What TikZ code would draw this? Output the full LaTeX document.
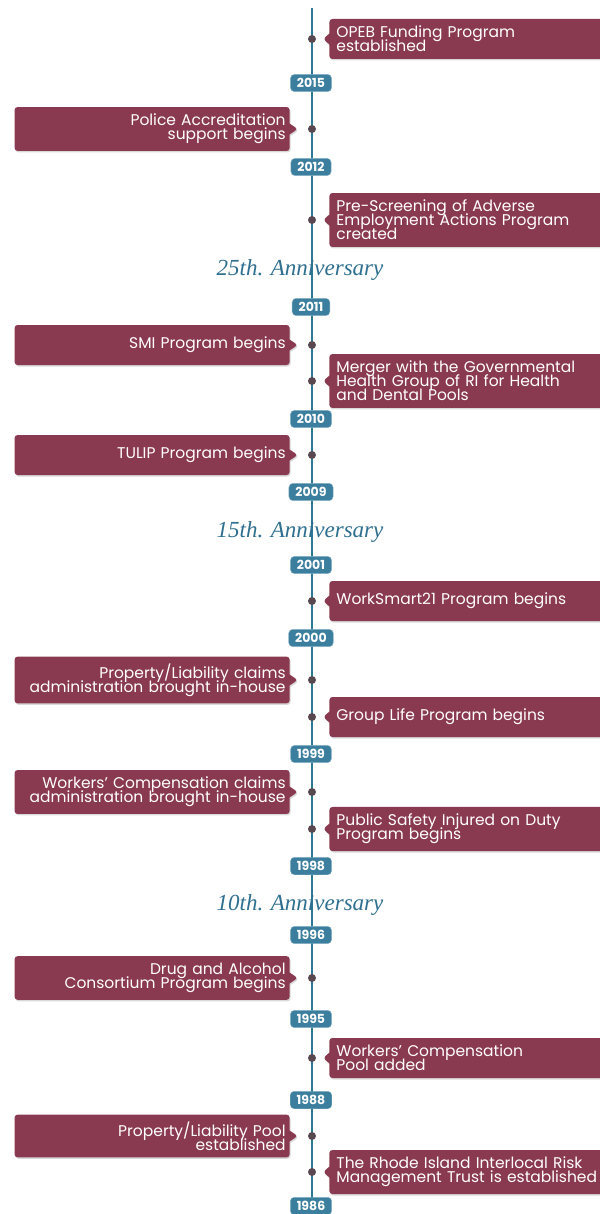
\documentclass[tikz,border=0pt]{standalone}
\usepackage{fontspec}
\setmainfont{Poppins}
\newfontfamily\annfont{Liberation Serif}
\usetikzlibrary{positioning,shapes.callouts,shadows}
\definecolor{boxred}{HTML}{8A3A50}
\definecolor{linetl}{HTML}{2C7896}
\definecolor{yearbl}{HTML}{3B7E9E}
\definecolor{dotgr}{HTML}{5A4850}
\definecolor{anntl}{HTML}{2F6F8F}
\newcommand\evtfont{\fontsize{15.5}{14}\selectfont\lineskiplimit=-8pt\relax}
\tikzset{
	evt/.style={rectangle callout, fill=boxred, text=white, rounded corners=3pt, minimum height=40pt, inner ysep=7pt, callout pointer width=11pt, font=\evtfont, drop shadow={opacity=0.3, shadow xshift=1pt, shadow yshift=-1.5pt}},
	evtR/.style={evt, text width=261pt, inner xsep=7pt, align=left},
	evtL/.style={evt, text width=267pt, inner xsep=4pt, align=right},
	yr/.style={fill=yearbl, draw=yearbl!60!white, rounded corners=4pt, text=white, inner xsep=6.5pt, inner ysep=4pt, font=\bfseries\fontsize{12.5}{12.5}\selectfont},
	evdot/.style={circle, fill=dotgr, inner sep=0pt, minimum size=8pt},
	ann/.style={text=anntl, font=\annfont\itshape\fontsize{23}{23}\selectfont}
}
\begin{document}
\begin{tikzpicture}[x=1pt,y=-1pt]
		\useasboundingbox (0,0) rectangle (599,1214);
		\coordinate (top) at (312,8);
		\coordinate (bot) at (312,1214);
		\draw[linetl, line width=1.6pt] (top) -- (bot);
		\node[evdot] (d1) at (312,39) {};
		\node[evdot] (d2) at (312,129) {};
		\node[evdot] (d3) at (312,220) {};
		\node[evdot] (d4) at (312,345) {};
		\node[evdot] (d5) at (312,381) {};
		\node[evdot] (d6) at (312,455) {};
		\node[evdot] (d7) at (312,601) {};
		\node[evdot] (d8) at (312,680) {};
		\node[evdot] (d9) at (312,717) {};
		\node[evdot] (d10) at (312,792) {};
		\node[evdot] (d11) at (312,829) {};
		\node[evdot] (d12) at (312,978) {};
		\node[evdot] (d13) at (312,1058) {};
		\node[evdot] (d14) at (312,1136) {};
		\node[evdot] (d15) at (312,1172) {};
		\node[evtR, right=13pt of d1, callout absolute pointer={([xshift=7pt]d1.east)}] (opeb) {OPEB Funding Program\\established};
		\node[evtL, left=18pt of d2, callout absolute pointer={([xshift=-10pt]d2.west)}] (police) {Police Accreditation\\support begins};
		\node[evtR, right=13pt of d3, callout absolute pointer={([xshift=7pt]d3.east)}] (prescreen) {Pre-Screening of Adverse\\Employment Actions Program\\created};
		\node[evtL, left=18pt of d4, callout absolute pointer={([xshift=-10pt]d4.west)}] (smi) {SMI Program begins};
		\node[evtR, right=13pt of d5, callout absolute pointer={([xshift=7pt]d5.east)}] (merger) {Merger with the Governmental\\Health Group of RI for Health\\and Dental Pools};
		\node[evtL, left=18pt of d6, callout absolute pointer={([xshift=-10pt]d6.west)}] (tulip) {TULIP Program begins};
		\node[evtR, right=13pt of d7, callout absolute pointer={([xshift=7pt]d7.east)}] (worksmart) {WorkSmart21 Program begins};
		\node[evtL, left=18pt of d8, callout absolute pointer={([xshift=-10pt]d8.west)}] (plclaims) {Property/Liability claims\\administration brought in-house};
		\node[evtR, right=13pt of d9, callout absolute pointer={([xshift=7pt]d9.east)}] (grouplife) {Group Life Program begins};
		\node[evtL, left=18pt of d10, callout absolute pointer={([xshift=-10pt]d10.west)}] (wcclaims) {Workers' Compensation claims\\administration brought in-house};
		\node[evtR, right=13pt of d11, callout absolute pointer={([xshift=7pt]d11.east)}] (pubsafety) {Public Safety Injured on Duty\\Program begins};
		\node[evtL, left=18pt of d12, callout absolute pointer={([xshift=-10pt]d12.west)}] (drug) {Drug and Alcohol\\Consortium Program begins};
		\node[evtR, right=13pt of d13, callout absolute pointer={([xshift=7pt]d13.east)}] (wcpool) {Workers' Compensation\\Pool added};
		\node[evtL, left=18pt of d14, callout absolute pointer={([xshift=-10pt]d14.west)}] (plpool) {Property/Liability Pool\\established};
		\node[evtR, right=13pt of d15, callout absolute pointer={([xshift=7pt]d15.east)}] (trust) {The Rhode Island Interlocal Risk\\Management Trust is established};
		\node[yr] (y2015) at (311,83) {2015};
		\node[yr] (y2012) at (311,167) {2012};
		\node[yr] (y2011) at (311,307) {2011};
		\node[yr] (y2010) at (311,419) {2010};
		\node[yr] (y2009) at (311,492) {2009};
		\node[yr] (y2001) at (311,565) {2001};
		\node[yr] (y2000) at (311,638) {2000};
		\node[yr] (y1999) at (311,754) {1999};
		\node[yr] (y1998) at (311,866) {1998};
		\node[yr] (y1996) at (311,935) {1996};
		\node[yr] (y1995) at (311,1019) {1995};
		\node[yr] (y1988) at (311,1100) {1988};
		\node[yr] (y1986) at (311,1206) {1986};
		\node[ann] (ann25) at (300,270) {25th. Anniversary};
		\node[ann] (ann15) at (300,532) {15th. Anniversary};
		\node[ann] (ann10) at (300,905) {10th. Anniversary};
	\end{tikzpicture}
\end{document}
